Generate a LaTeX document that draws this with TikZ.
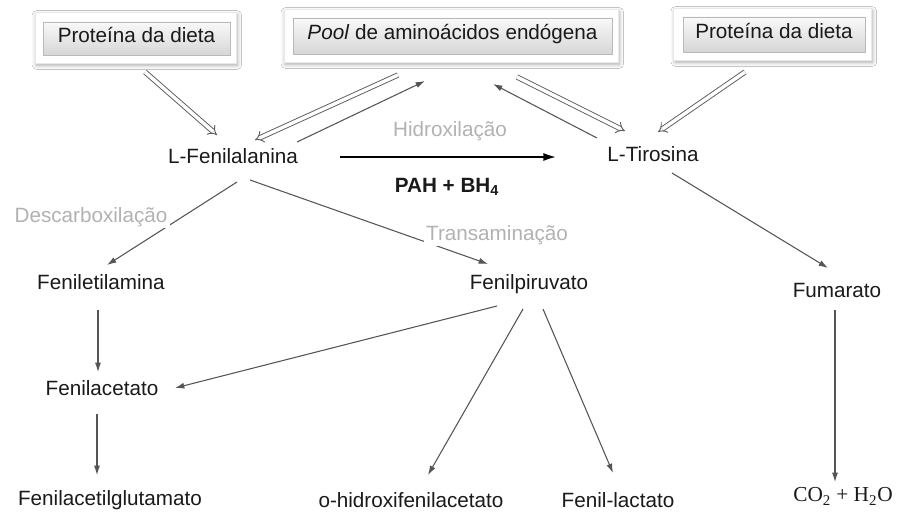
\documentclass[tikz,border=0pt]{standalone}
\usepackage{fontspec}
\setmainfont{Liberation Sans}
\newfontfamily\serifx{Liberation Serif}
\usetikzlibrary{arrows.meta,shadows.blur,backgrounds}
\definecolor{txt}{HTML}{1A1A1A}
\definecolor{lbl}{HTML}{B2B2B2}
\definecolor{ln}{HTML}{555555}
\definecolor{dl}{HTML}{5E5E5E}
\begin{document}
\begin{tikzpicture}[x=0.75pt,y=-0.75pt,
  every node/.style={font=\fontsize{15.5}{18}\selectfont, text=txt},
  tn/.style={text height=0.75em, text depth=0.2em, inner sep=1.5pt},
  boxn/.style={draw=gray!55, top color=gray!5, bottom color=gray!32, text height=0.75em, text depth=0.2em, inner sep=0pt},
  frame/.style={draw=gray!18, fill=white, blur shadow={shadow xshift=1pt, shadow yshift=-1.5pt, shadow blur radius=3pt, shadow opacity=35}},
  arr/.style={draw=ln, line width=0.8pt, -{Latex[length=7pt,width=4.5pt]}},
  dbl/.style={draw=dl, line width=0.7pt, double=white, double distance=2.6pt, -{Implies[scale=1.15]}},
  mainarr/.style={draw=black, line width=2.2pt, -{Latex[length=11pt,width=6pt]}},
  glbl/.style={tn, text=lbl, fill=white, inner sep=2pt}
]
\useasboundingbox (0,0) rectangle (897,517);

% boxes
\node[boxn, minimum width=140pt, minimum height=24.75pt] (b1) at (136.5,38.5) {Proteína da dieta};
\node[boxn, minimum width=239pt, minimum height=27pt] (b2) at (452.5,36) {\textit{Pool} de aminoácidos endógena};
\node[boxn, minimum width=136.5pt, minimum height=26.25pt] (b3) at (774,34.5) {Proteína da dieta};

\begin{scope}[on background layer]
\fill[white] (0,0) rectangle (897,517);
\draw[frame] ([shift={(-8,-9)}]b1.north west) rectangle ([shift={(6,8)}]b1.south east);
\draw[frame] ([shift={(-9,-8)}]b2.north west) rectangle ([shift={(6,8)}]b2.south east);
\draw[frame] ([shift={(-9,-8)}]b3.north west) rectangle ([shift={(6,8)}]b3.south east);
\end{scope}

% text nodes
\node[tn] (lfen) at (233,159.5) {L-Fenilalanina};
\node[tn] (ltir) at (653,157.5) {L-Tirosina};
\node[tn, text=lbl] (hid) at (450,133) {Hidroxilação};
\node[tn] (pah) at (447,188.5) {\textbf{PAH + BH\textsubscript{4}}};
\node[tn] (fenet) at (101,285.5) {Feniletilamina};
\node[tn] (fenpir) at (529,285.5) {Fenilpiruvato};
\node[tn] (fum) at (837,294) {Fumarato};
\node[tn] (fenac) at (102,392) {Fenilacetato};
\node[tn] (fenglu) at (110,502) {Fenilacetilglutamato};
\node[tn] (ohid) at (411,504) {o-hidroxifenilacetato};
\node[tn] (fenlac) at (618,504) {Fenil-lactato};
\node[tn, font=\serifx\fontsize{16}{18}\selectfont] (co2) at (843,498) {CO\textsubscript{2} + H\textsubscript{2}O};

% double arrows
\draw[dbl] ([shift={(8.5,33.5)}]b1.center) -- ([shift={(-16,-24.5)}]lfen.center);
\draw[dbl] ([shift={(-54.5,39)}]b2.center) -- ([shift={(22,-19.5)}]lfen.center);
\draw[dbl] ([shift={(64.5,41)}]b2.center) -- ([shift={(-28,-26.5)}]ltir.center);
\draw[dbl] ([shift={(-29,37.5)}]b3.center) -- ([shift={(5,-25.5)}]ltir.center);

% single arrows
\draw[arr] ([shift={(64,-17.5)}]lfen.center) -- ([shift={(-27.5,45)}]b2.center);
\draw[arr] ([shift={(-56,-19.5)}]ltir.center) -- ([shift={(40.5,48)}]b2.center);
\draw[mainarr] ([shift={(107,-2.5)}]lfen.center) -- ([shift={(-95,-0.5)}]ltir.center);
\draw[arr] ([shift={(4,22.5)}]lfen.center) -- ([shift={(6,-20.5)}]fenet.center);
\draw[arr] ([shift={(17,20.5)}]lfen.center) -- ([shift={(-41,-21.5)}]fenpir.center);
\draw[arr] ([shift={(19,15.5)}]ltir.center) -- ([shift={(-9,-26)}]fum.center);
\draw[arr] ([shift={(-3,24.5)}]fenet.center) -- ([shift={(-4,-20)}]fenac.center);
\draw[arr] ([shift={(-32,20.5)}]fenpir.center) -- ([shift={(73,-4)}]fenac.center);
\draw[arr] ([shift={(-6,23.5)}]fenpir.center) -- ([shift={(17,-29)}]ohid.center);
\draw[arr] ([shift={(14,23.5)}]fenpir.center) -- ([shift={(-5,-31)}]fenlac.center);
\draw[arr] ([shift={(-5,22)}]fenac.center) -- ([shift={(-13,-27)}]fenglu.center);
\draw[arr] ([shift={(-2,16)}]fum.center) -- ([shift={(-8,-16)}]co2.center);

% grey labels over the lines
\node[glbl] (desc) at (91,218.5) {Descarboxilação};
\node[glbl] (trans) at (497,237) {Transaminação};
\end{tikzpicture}
\end{document}
